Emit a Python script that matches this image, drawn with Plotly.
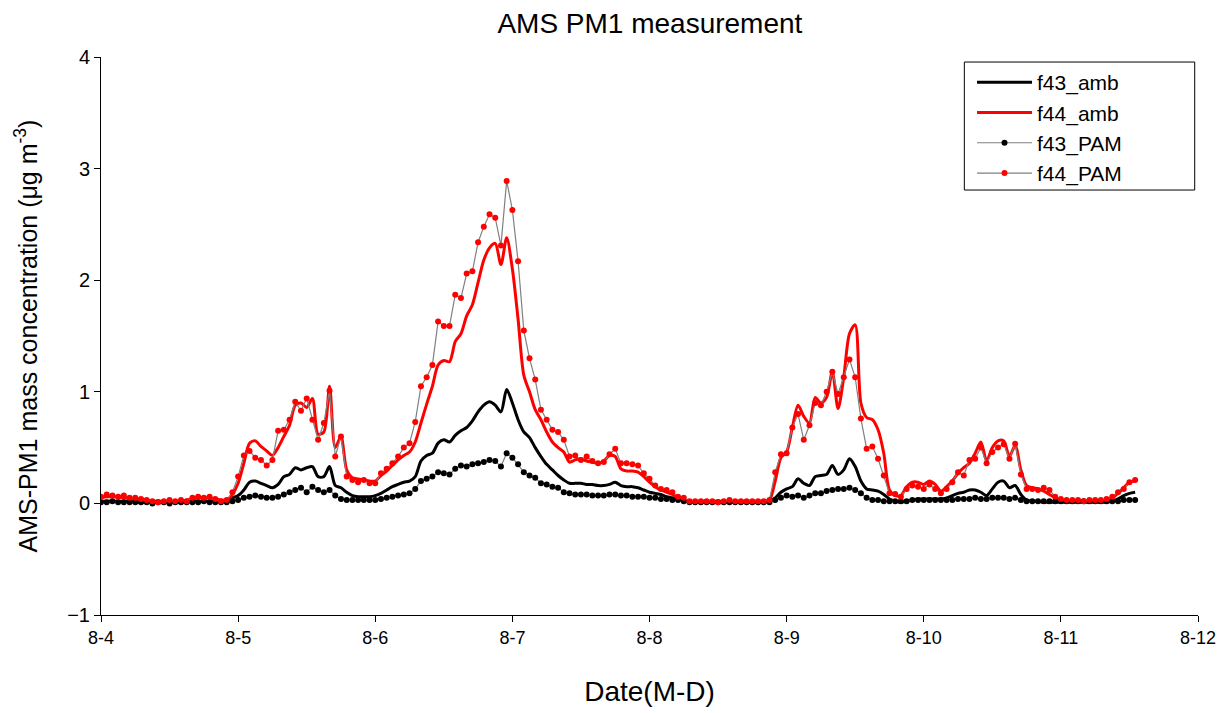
import pandas as pd
import plotly.graph_objects as go

# ---- data (hourly, starting 8-4 00:00) ----
f43_amb = (
    [0.02,0.02,0.02,0.02,0.02,0.02,0.01,0.01,0.01,0.01,0.01,0.01,0.01,0.01,0.01,0.01,0.02,0.02,0.02,0.02,0.02,0.02,0.03,0.05]
    + [0.07,0.12,0.19,0.20,0.18,0.16,0.14,0.17,0.24,0.26,0.32,0.30,0.32,0.33,0.24,0.24,0.33,0.16,0.14,0.10,0.07,0.06,0.06,0.06]
    + [0.07,0.09,0.12,0.15,0.17,0.19,0.20,0.24,0.38,0.43,0.45,0.54,0.57,0.55,0.61,0.65,0.68,0.74,0.82,0.88,0.91,0.88,0.82,1.02]
    + [0.90,0.75,0.64,0.59,0.50,0.42,0.35,0.30,0.25,0.21,0.18,0.18,0.18,0.17,0.17,0.16,0.16,0.17,0.19,0.16,0.15,0.15,0.14,0.12]
    + [0.10,0.09,0.08,0.06,0.05,0.04,0.03,0.02,0.01,0.01,0.01,0.01,0.01,0.01,0.01,0.01,0.01,0.01,0.01,0.01,0.01,0.02,0.05,0.10]
    + [0.13,0.15,0.22,0.18,0.16,0.24,0.25,0.26,0.34,0.26,0.30,0.40,0.33,0.20,0.13,0.12,0.11,0.08,0.04,0.02,0.01,0.02,0.03,0.04]
    + [0.04,0.04,0.04,0.04,0.05,0.07,0.09,0.10,0.12,0.12,0.10,0.07,0.13,0.19,0.20,0.14,0.16,0.08,0.03,0.02,0.02,0.01,0.01,0.01]
    + [0.01,0.01,0.01,0.01,0.01,0.01,0.01,0.01,0.01,0.02,0.04,0.07,0.09,0.10]
)
f44_amb = (
    [0.05,0.06,0.06,0.06,0.05,0.05,0.04,0.04,0.03,0.02,0.02,0.02,0.02,0.02,0.02,0.03,0.04,0.05,0.05,0.05,0.04,0.03,0.03,0.08]
    + [0.18,0.36,0.54,0.56,0.51,0.47,0.43,0.50,0.60,0.70,0.88,0.90,0.86,0.94,0.62,0.64,1.05,0.50,0.60,0.30,0.23,0.22,0.21,0.20]
    + [0.20,0.25,0.29,0.34,0.39,0.43,0.46,0.55,0.72,0.89,1.05,1.24,1.28,1.27,1.45,1.52,1.68,1.78,1.98,2.18,2.29,2.33,2.14,2.38]
    + [2.10,1.65,1.15,1.00,0.84,0.75,0.64,0.55,0.50,0.46,0.37,0.39,0.40,0.38,0.37,0.36,0.38,0.43,0.42,0.31,0.29,0.29,0.28,0.24]
    + [0.19,0.15,0.12,0.10,0.08,0.05,0.03,0.02,0.02,0.02,0.02,0.02,0.02,0.02,0.02,0.02,0.02,0.02,0.02,0.02,0.02,0.03,0.20,0.41]
    + [0.46,0.68,0.88,0.78,0.72,0.95,0.90,0.95,1.18,0.85,1.13,1.52,1.60,0.90,0.77,0.75,0.66,0.45,0.12,0.07,0.07,0.15,0.19,0.19]
    + [0.17,0.20,0.17,0.11,0.15,0.20,0.27,0.32,0.36,0.45,0.55,0.38,0.50,0.56,0.56,0.42,0.52,0.30,0.16,0.14,0.13,0.11,0.08,0.05]
    + [0.03,0.02,0.02,0.02,0.02,0.02,0.02,0.02,0.03,0.05,0.09,0.14,0.19,0.20]
)
f43_pam = (
    [0.01,0.01,0.02,0.01,0.01,0.01,0.01,0.01,0.01,0.00,0.01,0.01,0.00,0.01,0.01,0.01,0.01,0.01,0.02,0.01,0.01,0.01,0.01,0.02]
    + [0.03,0.05,0.06,0.07,0.06,0.05,0.05,0.06,0.08,0.10,0.12,0.14,0.10,0.15,0.12,0.10,0.12,0.07,0.04,0.03,0.03,0.03,0.03,0.03]
    + [0.03,0.04,0.05,0.06,0.07,0.08,0.09,0.13,0.20,0.22,0.24,0.28,0.27,0.26,0.31,0.34,0.33,0.35,0.36,0.37,0.39,0.38,0.33,0.45]
    + [0.41,0.35,0.28,0.25,0.23,0.18,0.17,0.15,0.14,0.10,0.09,0.08,0.08,0.08,0.07,0.07,0.07,0.08,0.08,0.07,0.07,0.06,0.06,0.06]
    + [0.05,0.05,0.04,0.04,0.03,0.03,0.02,0.01,0.01,0.01,0.01,0.01,0.01,0.01,0.01,0.01,0.01,0.01,0.01,0.01,0.01,0.01,0.03,0.05]
    + [0.07,0.06,0.07,0.05,0.07,0.09,0.09,0.11,0.12,0.13,0.13,0.14,0.12,0.09,0.05,0.03,0.03,0.02,0.02,0.02,0.02,0.02,0.03,0.03]
    + [0.03,0.03,0.03,0.03,0.03,0.03,0.04,0.04,0.04,0.05,0.04,0.04,0.05,0.05,0.05,0.04,0.05,0.03,0.02,0.02,0.02,0.02,0.02,0.02]
    + [0.02,0.02,0.02,0.02,0.02,0.02,0.02,0.02,0.02,0.02,0.02,0.03,0.03,0.03]
)
f44_pam = (
    [0.06,0.08,0.07,0.06,0.07,0.05,0.05,0.04,0.03,0.02,0.01,0.02,0.03,0.02,0.03,0.02,0.05,0.06,0.05,0.06,0.04,0.02,0.03,0.10]
    + [0.24,0.43,0.47,0.41,0.39,0.34,0.39,0.65,0.66,0.75,0.91,0.83,0.94,0.75,0.57,0.72,1.01,0.42,0.60,0.24,0.21,0.19,0.21,0.18]
    + [0.18,0.27,0.31,0.36,0.42,0.50,0.54,0.73,1.05,1.13,1.24,1.63,1.59,1.59,1.87,1.84,2.06,2.08,2.34,2.48,2.59,2.56,2.31,2.89]
    + [2.63,2.17,1.55,1.30,1.11,0.84,0.75,0.66,0.64,0.57,0.42,0.43,0.39,0.42,0.38,0.36,0.37,0.44,0.49,0.36,0.36,0.35,0.34,0.27]
    + [0.22,0.16,0.13,0.12,0.10,0.06,0.05,0.02,0.02,0.02,0.02,0.02,0.01,0.02,0.03,0.02,0.02,0.02,0.02,0.02,0.02,0.03,0.28,0.44]
    + [0.45,0.68,0.80,0.57,0.70,0.90,0.88,1.00,1.18,0.98,1.13,1.29,1.13,0.76,0.49,0.51,0.40,0.25,0.09,0.085,0.06,0.13,0.16,0.15]
    + [0.13,0.17,0.13,0.09,0.13,0.19,0.28,0.25,0.39,0.40,0.50,0.36,0.46,0.50,0.53,0.40,0.535,0.26,0.13,0.13,0.12,0.14,0.12,0.06]
    + [0.04,0.03,0.03,0.03,0.02,0.03,0.03,0.03,0.04,0.06,0.10,0.13,0.19,0.21]
)
start_time = "2013-08-04 00:00"
tick_labels = ["8-4", "8-5", "8-6", "8-7", "8-8", "8-9", "8-10", "8-11", "8-12"]

times = pd.date_range(start_time, periods=len(f44_pam), freq="h")
tick_vals = pd.date_range("2013-08-04", periods=len(tick_labels), freq="D")

FONT = "Liberation Sans, Arial, sans-serif"

fig = go.Figure()
fig.add_trace(go.Scatter(x=times, y=f43_amb, name="f43_amb", mode="lines",
                         line=dict(color="black", width=3, shape="spline", smoothing=0.8),
                         legendgroup="a"))
fig.add_trace(go.Scatter(x=times, y=f44_amb, name="f44_amb", mode="lines",
                         line=dict(color="#ff0000", width=3, shape="spline", smoothing=0.8),
                         legendgroup="b"))
fig.add_trace(go.Scatter(x=times, y=f43_pam, name="f43_PAM", mode="lines+markers",
                         line=dict(color="#808080", width=1.2),
                         marker=dict(color="black", size=6, symbol="circle"),
                         legendgroup="c"))
fig.add_trace(go.Scatter(x=times, y=f44_pam, name="f44_PAM", mode="lines+markers",
                         line=dict(color="#808080", width=1.2),
                         marker=dict(color="#ff0000", size=6, symbol="circle"),
                         legendgroup="d"))

fig.update_layout(
    width=1217, height=713,
    margin=dict(l=101, r=19, t=57, b=98),
    paper_bgcolor="white", plot_bgcolor="white",
    font=dict(family=FONT, color="black"),
    title=dict(text="AMS PM1 measurement", x=0.534, xanchor="center", y=0.968, yanchor="middle",
               font=dict(size=28)),
    showlegend=True,
    legend=dict(x=0.794, y=0.991, xanchor="left", yanchor="top",
                bgcolor="rgba(0,0,0,0)", borderwidth=0, itemwidth=55,
                font=dict(size=21), tracegroupgap=0),
    shapes=[dict(type="rect", xref="paper", yref="paper",
                 x0=0.787, x1=0.997, y0=0.7616, y1=0.991,
                 line=dict(color="black", width=1), fillcolor="rgba(0,0,0,0)")],
)
fig.update_xaxes(
    range=[tick_vals[0], tick_vals[-1]],
    tickvals=tick_vals, ticktext=tick_labels,
    showline=True, linecolor="black", linewidth=1, mirror=False,
    ticks="outside", ticklen=6, tickcolor="black",
    showgrid=False, zeroline=False, automargin=False,
    ticklabeloverflow="allow",
    tickfont=dict(size=18),
    title=dict(text="Date(M-D)", font=dict(size=28), standoff=34),
)
fig.update_yaxes(
    range=[-1, 4], dtick=1, tick0=0,
    showline=True, linecolor="black", linewidth=1, mirror=False,
    ticks="outside", ticklen=6, tickcolor="black",
    showgrid=False, zeroline=False, automargin=False,
    tickfont=dict(size=20),
    title=dict(text="AMS-PM1 mass concentration (μg m<sup>-3</sup>)", font=dict(size=25), standoff=22),
)

fig.write_html("out.html",
               config={"displayModeBar": False},
               post_script="document.body.style.margin='0';document.body.style.overflow='hidden';")
